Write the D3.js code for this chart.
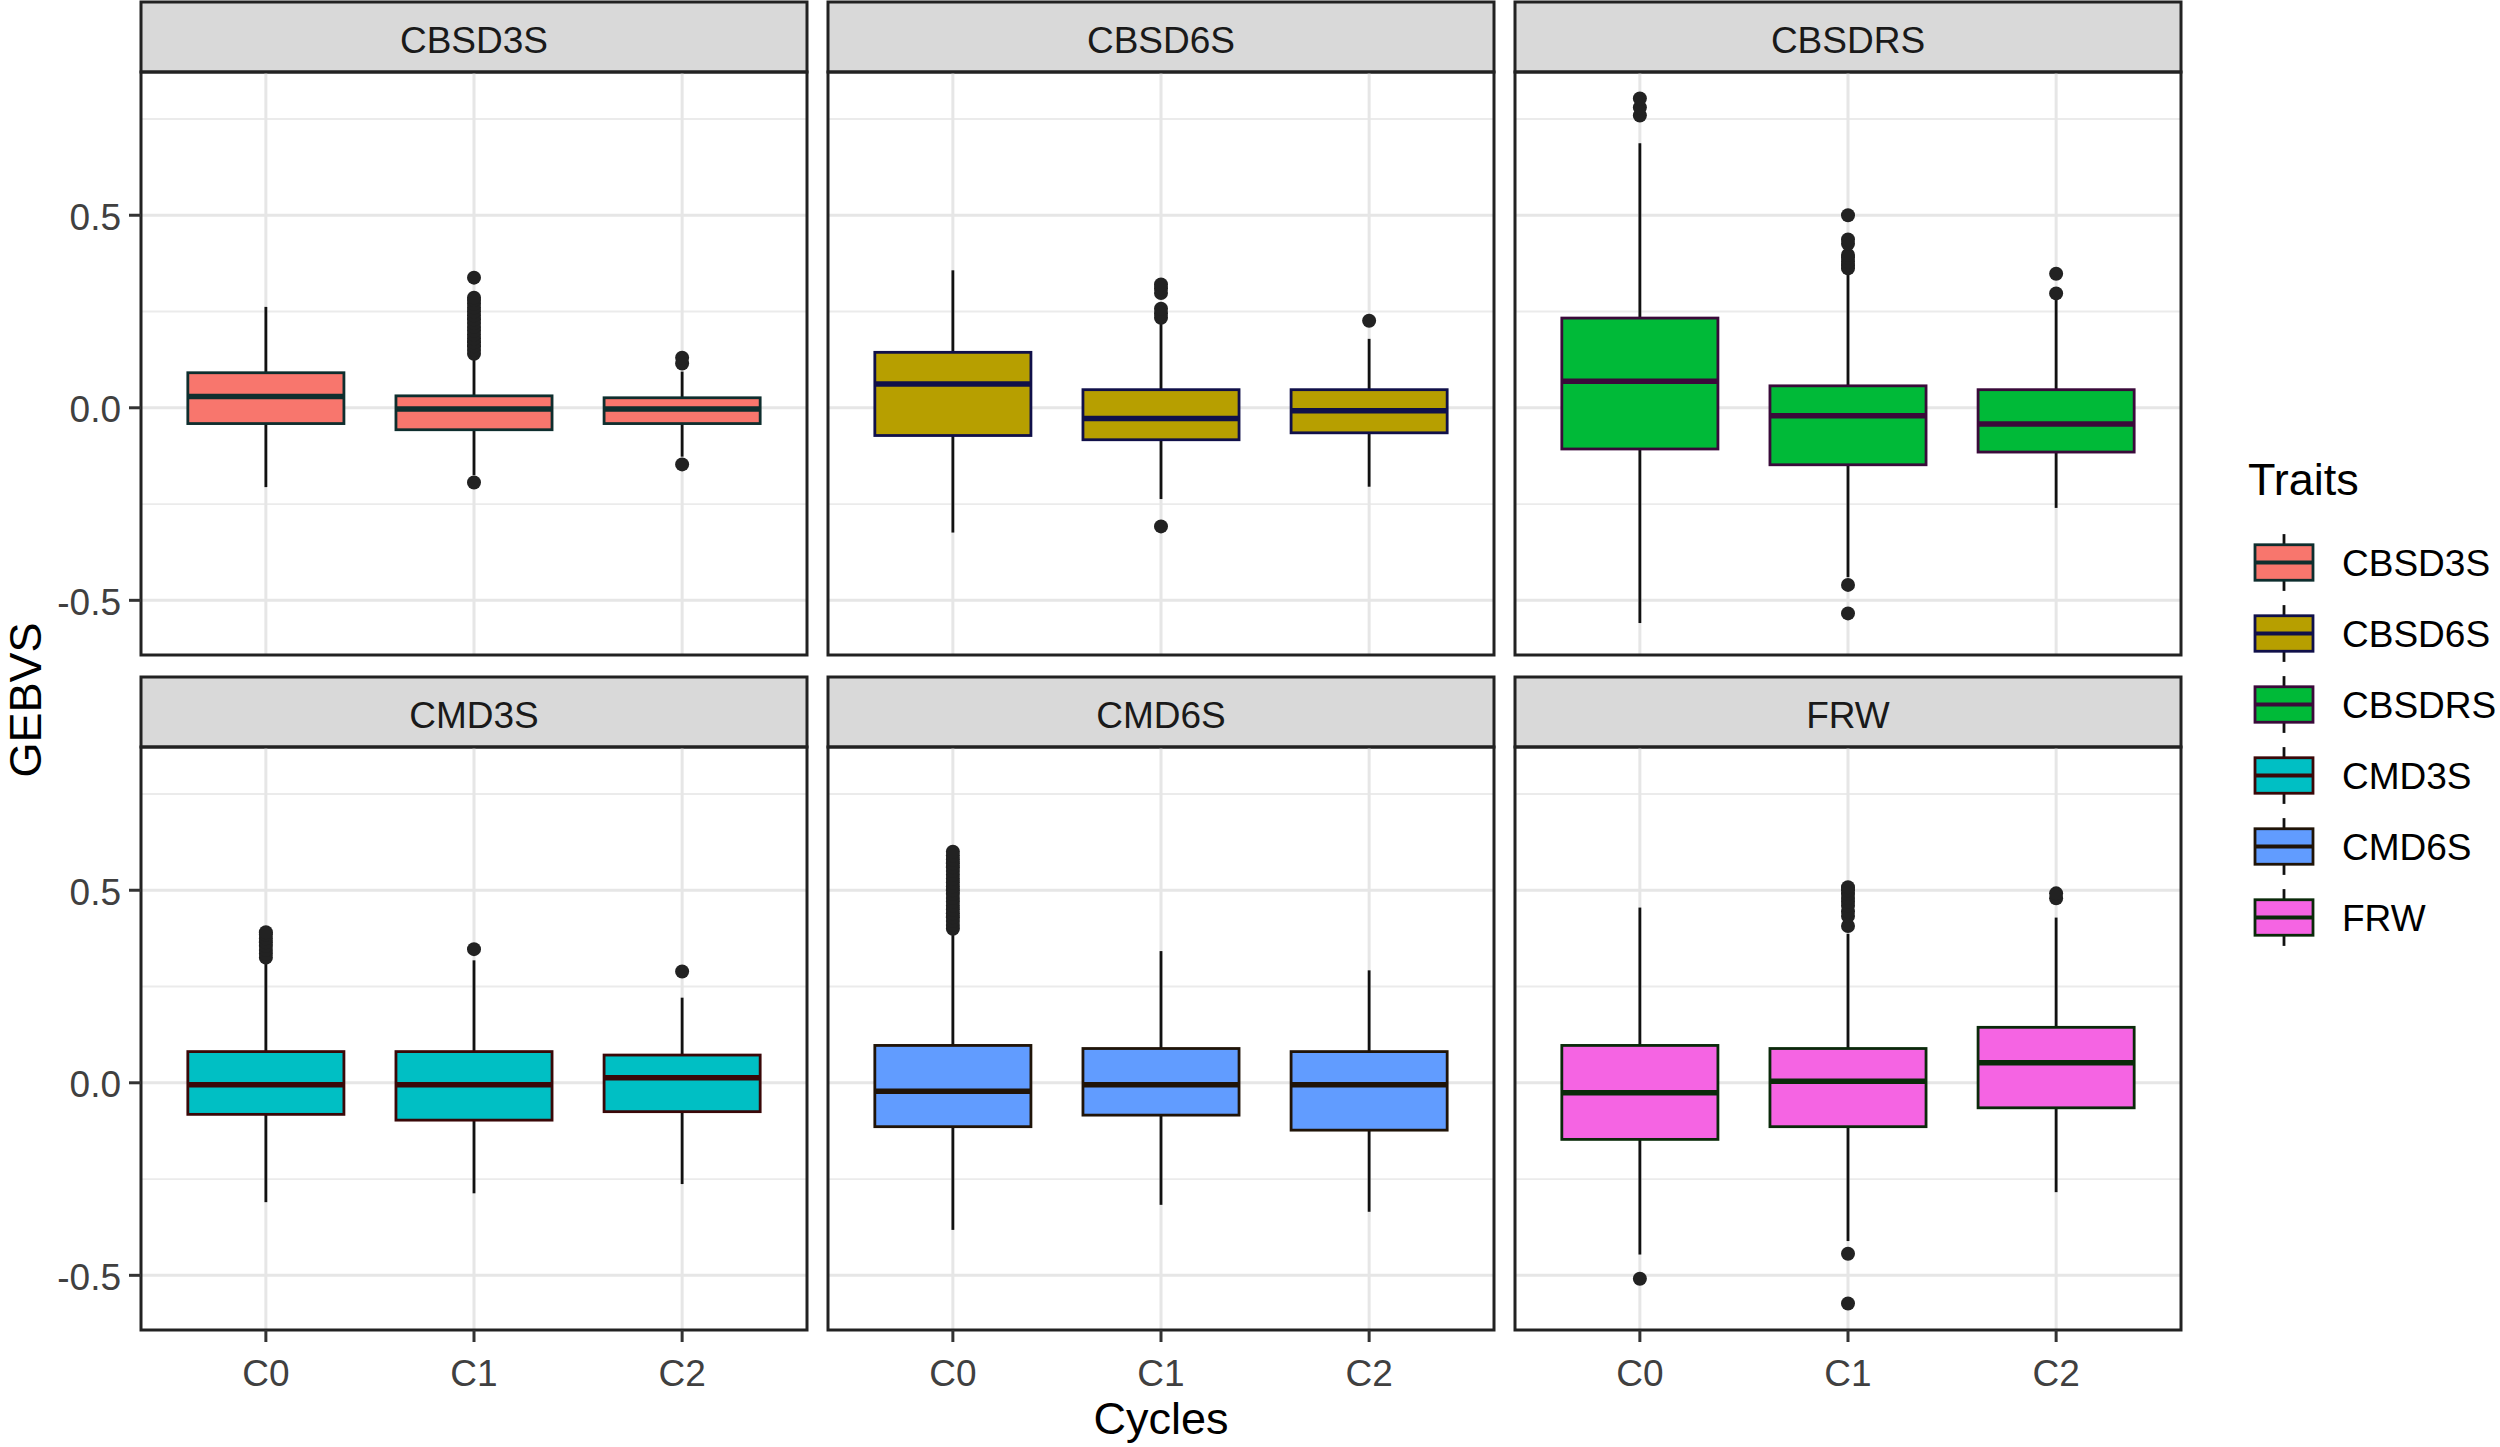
<!DOCTYPE html>
<html>
<head>
<meta charset="utf-8">
<script src="https://cdn.jsdelivr.net/npm/d3@7"></script>
<style>
body{margin:0;background:#fff}
text{font-family:"Liberation Sans",Arial,sans-serif}
</style>
</head>
<body>
<svg></svg>
<script>
var traits=["CBSD3S","CBSD6S","CBSDRS","CMD3S","CMD6S","FRW"]
var cycles=["C0","C1","C2"]
var yTicks=[-0.5,0,0.5]
var yMinor=[-0.25,0.25,0.75]
var tickLabels=["-0.5","0.0","0.5"]
var fills=["#F8766D","#B79F00","#00BA38","#00BFC4","#619CFF","#F564E3"]
var outlines=["#0e2e2e","#10104a","#3a0a3a","#3a0808","#201408","#0a2a0a"]

// box stats per trait, per cycle (C0,C1,C2)
var whiskerLow=[
 [-0.206,-0.175,-0.127],
 [-0.324,-0.237,-0.205],
 [-0.559,-0.44,-0.26],
 [-0.31,-0.287,-0.263],
 [-0.382,-0.317,-0.335],
 [-0.446,-0.411,-0.284]]
var q1=[
 [-0.041,-0.057,-0.041],
 [-0.072,-0.083,-0.065],
 [-0.107,-0.148,-0.115],
 [-0.082,-0.097,-0.075],
 [-0.114,-0.084,-0.123],
 [-0.147,-0.114,-0.065]]
var medians=[
 [0.029,-0.003,-0.003],
 [0.062,-0.028,-0.008],
 [0.069,-0.021,-0.042],
 [-0.005,-0.005,0.013],
 [-0.022,-0.005,-0.005],
 [-0.026,0.004,0.052]]
var q3=[
 [0.091,0.031,0.026],
 [0.144,0.047,0.047],
 [0.233,0.057,0.047],
 [0.081,0.081,0.072],
 [0.097,0.089,0.081],
 [0.097,0.089,0.144]]
var whiskerHigh=[
 [0.262,0.132,0.094],
 [0.357,0.222,0.179],
 [0.687,0.356,0.28],
 [0.318,0.318,0.221],
 [0.394,0.342,0.292],
 [0.455,0.387,0.429]]
var outliers=[
 [[],
  [0.14,0.15,0.16,0.17,0.18,0.19,0.2,0.21,0.22,0.23,0.24,0.25,0.26,0.27,0.28,0.286,0.338,-0.194],
  [0.115,0.13,-0.147]],
 [[],
  [0.234,0.245,0.257,0.298,0.31,0.32,-0.308],
  [0.226]],
 [[0.759,0.78,0.803],
  [0.362,0.37,0.38,0.39,0.397,0.426,0.437,0.5,-0.46,-0.534],
  [0.297,0.348]],
 [[0.325,0.335,0.345,0.355,0.365,0.375,0.385,0.391],
  [0.347],
  [0.289]],
 [[0.4,0.41,0.42,0.43,0.44,0.45,0.46,0.47,0.48,0.49,0.5,0.51,0.52,0.53,0.54,0.55,0.56,0.57,0.58,0.59,0.6],
  [],
  []],
 [[-0.509],
  [0.407,0.433,0.445,0.46,0.47,0.48,0.49,0.5,0.508,-0.444,-0.573],
  [0.479,0.492]]]

var W=2500,H=1447
var svg=d3.select("svg").attr("width",W).attr("height",H)

var colLeft=[141,828,1515]
var rowTop=[2,677]
var panelW=666,panelH=583,stripH=70

var x=d3.scalePoint().domain(cycles).range([0,panelW]).padding(0.6)
var y=d3.scaleLinear().domain([-0.642,0.872]).range([panelH,0])
var boxW=x.step()*0.75

traits.forEach(function(t,ti){
  var col=ti%3,row=Math.floor(ti/3)
  var g=svg.append("g").attr("transform","translate("+colLeft[col]+","+(rowTop[row])+")")

  // strip
  g.append("rect").attr("x",0).attr("y",0).attr("width",panelW).attr("height",stripH)
    .attr("fill","#D9D9D9").attr("stroke","#222").attr("stroke-width",3)
  g.append("text").text(t).attr("x",panelW/2).attr("y",stripH/2+3)
    .attr("text-anchor","middle").attr("dominant-baseline","central")
    .style("font-size","37px").attr("fill","#1a1a1a")

  var p=g.append("g").attr("transform","translate(0,"+stripH+")")
  // grid
  p.selectAll("line.minor").data(yMinor).enter().append("line")
    .attr("x1",0).attr("x2",panelW).attr("y1",d=>y(d)).attr("y2",d=>y(d))
    .attr("stroke","#EBEBEB").attr("stroke-width",1.8)
  p.selectAll("line.major").data(yTicks).enter().append("line")
    .attr("x1",0).attr("x2",panelW).attr("y1",d=>y(d)).attr("y2",d=>y(d))
    .attr("stroke","#E6E6E6").attr("stroke-width",3)
  p.selectAll("line.vgrid").data(cycles).enter().append("line")
    .attr("x1",d=>x(d)).attr("x2",d=>x(d)).attr("y1",0).attr("y2",panelH)
    .attr("stroke","#E6E6E6").attr("stroke-width",3)

  var boxes=p.selectAll("g.box").data(cycles).enter().append("g")
  // whiskers
  boxes.append("line").attr("x1",d=>x(d)).attr("x2",d=>x(d))
    .attr("y1",(d,i)=>y(whiskerHigh[ti][i])).attr("y2",(d,i)=>y(q3[ti][i]))
    .attr("stroke","#111").attr("stroke-width",2.8)
  boxes.append("line").attr("x1",d=>x(d)).attr("x2",d=>x(d))
    .attr("y1",(d,i)=>y(q1[ti][i])).attr("y2",(d,i)=>y(whiskerLow[ti][i]))
    .attr("stroke","#111").attr("stroke-width",2.8)
  boxes.append("rect")
    .attr("x",d=>x(d)-boxW/2).attr("width",boxW)
    .attr("y",(d,i)=>y(q3[ti][i])).attr("height",(d,i)=>y(q1[ti][i])-y(q3[ti][i]))
    .attr("fill",fills[ti]).attr("stroke",outlines[ti]).attr("stroke-width",2.8)
  boxes.append("line").attr("x1",d=>x(d)-boxW/2).attr("x2",d=>x(d)+boxW/2)
    .attr("y1",(d,i)=>y(medians[ti][i])).attr("y2",(d,i)=>y(medians[ti][i]))
    .attr("stroke",outlines[ti]).attr("stroke-width",5.5)
  boxes.each(function(d,i){
    d3.select(this).selectAll("circle").data(outliers[ti][i]).enter().append("circle")
      .attr("cx",x(d)).attr("cy",v=>y(v)).attr("r",7).attr("fill","#222")
  })

  p.append("rect").attr("x",0).attr("y",0).attr("width",panelW).attr("height",panelH)
    .attr("fill","none").attr("stroke","#222").attr("stroke-width",3)

  if(col==0){
    p.selectAll("line.ytick").data(yTicks).enter().append("line")
      .attr("x1",-12).attr("x2",0).attr("y1",d=>y(d)).attr("y2",d=>y(d))
      .attr("stroke","#333").attr("stroke-width",3)
    p.selectAll("text.ytick").data(yTicks).enter().append("text")
      .text((d,i)=>tickLabels[i]).attr("x",-20).attr("y",d=>y(d)+2)
      .attr("text-anchor","end").attr("dominant-baseline","central")
      .style("font-size","37px").attr("fill","#404040")
  }
  if(row==1){
    p.selectAll("line.xtick").data(cycles).enter().append("line")
      .attr("x1",d=>x(d)).attr("x2",d=>x(d)).attr("y1",panelH).attr("y2",panelH+12)
      .attr("stroke","#333").attr("stroke-width",3)
    p.selectAll("text.xtick").data(cycles).enter().append("text")
      .text(d=>d).attr("x",d=>x(d)).attr("y",panelH+43)
      .attr("text-anchor","middle").attr("dominant-baseline","central")
      .style("font-size","37px").attr("fill","#404040")
  }
})

// axis titles
svg.append("text").text("Cycles").attr("x",1161).attr("y",1434)
  .attr("text-anchor","middle").style("font-size","45px").attr("fill","#000")
svg.append("text").text("GEBVS")
  .attr("transform","translate(41,700) rotate(-90)")
  .attr("text-anchor","middle").style("font-size","45px").attr("fill","#000")

// legend
var lg=svg.append("g").attr("transform","translate(2248,0)")
lg.append("text").text("Traits").attr("x",0).attr("y",495)
  .style("font-size","45px").attr("fill","#000")
var keyS=71
var keys=lg.selectAll("g.key").data(traits).enter().append("g")
  .attr("transform",(d,i)=>"translate(0,"+(527+i*keyS)+")")
keys.append("line").attr("x1",36).attr("x2",36).attr("y1",keyS*0.1).attr("y2",keyS*0.9)
  .attr("stroke","#111").attr("stroke-width",2.8)
keys.append("rect").attr("x",7).attr("width",58).attr("y",keyS*0.25).attr("height",keyS*0.5)
  .attr("fill",(d,i)=>fills[i]).attr("stroke",(d,i)=>outlines[i]).attr("stroke-width",2.8)
keys.append("line").attr("x1",7).attr("x2",65).attr("y1",keyS/2).attr("y2",keyS/2)
  .attr("stroke",(d,i)=>outlines[i]).attr("stroke-width",4)
keys.append("text").text(d=>d).attr("x",94).attr("y",keyS/2+1)
  .attr("dominant-baseline","central").style("font-size","37px").attr("fill","#000")
</script>
</body>
</html>
